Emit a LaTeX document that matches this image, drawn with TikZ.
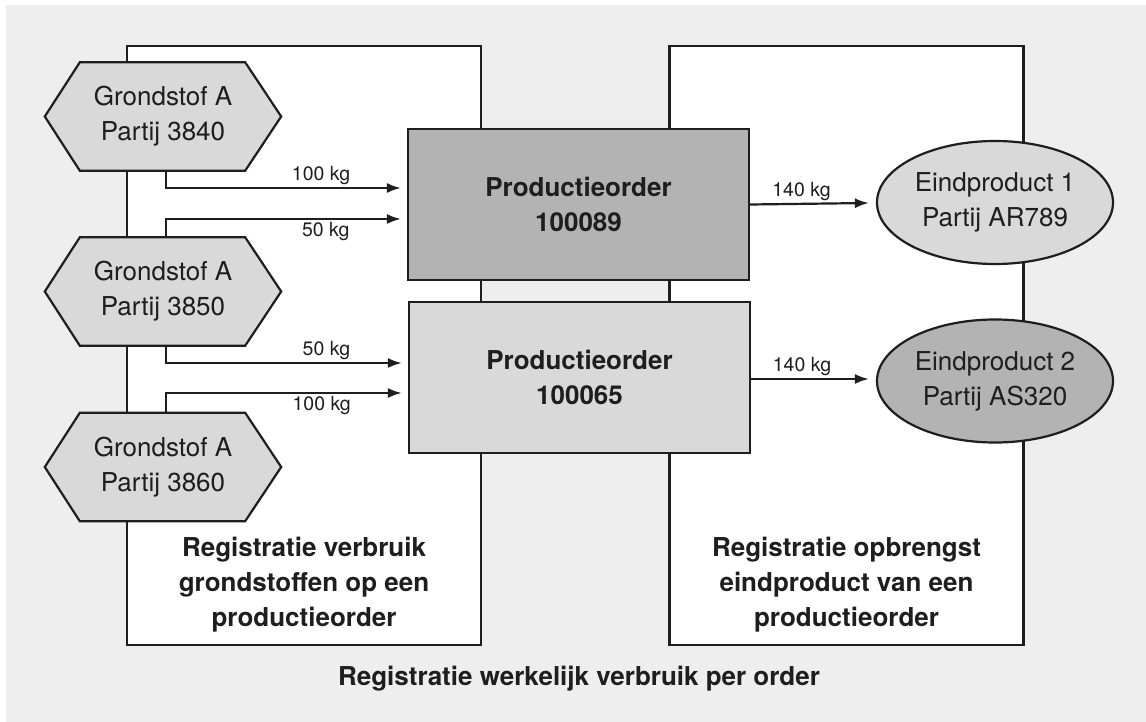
\documentclass[tikz,border=0pt]{standalone}
\usepackage{fontspec}
\setmainfont{TeX Gyre Heros}
\usetikzlibrary{shapes.geometric,calc,arrows.meta}

\pgfdeclarelayer{back}
\pgfdeclarelayer{shade}
\pgfsetlayers{back,shade,main}

\definecolor{panel}{HTML}{EEEEEE}
\definecolor{lightfill}{HTML}{D9D9D9}
\definecolor{darkfill}{HTML}{B3B3B3}
\definecolor{ink}{HTML}{1E1E1E}

% hexagon outline behind a (borderless) rectangular node
\newcommand\hexframe[1]{%
  \begin{pgfonlayer}{shade}
    \filldraw[outline, fill=lightfill]
      (#1.west) -- ($(#1.north west)+(35,0)$) -- ($(#1.north east)+(-36,0)$)
      -- (#1.east) -- ($(#1.south east)+(-36,0)$) -- ($(#1.south west)+(35,0)$)
      -- cycle;
  \end{pgfonlayer}}

\begin{document}
\begin{tikzpicture}[x=1pt,y=-1pt,
  outline/.style={draw=ink, line width=2.2pt, line join=miter},
  body/.style={font=\fontsize{26}{35}\selectfont, align=center, text=ink},
  heavy/.style={font=\fontsize{26}{35}\selectfont\bfseries, align=center, text=ink},
  qty/.style={font=\fontsize{19.5}{22}\selectfont, text=ink, inner sep=2pt},
  flow/.style={draw=ink, line width=2.2pt, -{Latex[length=14pt,width=10pt]}},
  lane/.style={outline, fill=white, minimum width=354, minimum height=599, inner sep=0},
  rawbox/.style={body, minimum width=236, minimum height=108, inner sep=0},
  orderbox/.style={heavy, outline, minimum width=341, minimum height=151, inner sep=0},
  product/.style={body, outline, ellipse, minimum width=236, minimum height=123, inner sep=0},
]
\useasboundingbox (0,0) rectangle (1146,722);

% backdrop and the two registration lanes
\begin{pgfonlayer}{back}
  \fill[panel] (6,5) rectangle (1146,722);
  \node[lane] (laneA) at (304,345.5) {};
  \node[lane] (laneB) at (846.5,345.5) {};
\end{pgfonlayer}

\node[heavy] (captA) at (304,585) {Registratie verbruik\\grondstoffen op een\\productieorder};
\node[heavy] (captB) at (846.5,585) {Registratie opbrengst\\eindproduct van een\\productieorder};
\node[heavy] (caption) at (579,679) {Registratie werkelijk verbruik per order};

% raw material batches
\node[rawbox] (g1) at (163,116.5) {Grondstof A\\Partij 3840};
\node[rawbox] (g2) at (163,291.5) {Grondstof A\\Partij 3850};
\node[rawbox] (g3) at (163,467) {Grondstof A\\Partij 3860};
\hexframe{g1}
\hexframe{g2}
\hexframe{g3}

% production orders
\node[orderbox, fill=darkfill] (p1) at (578.5,204.5) {Productieorder\\100089};
\node[orderbox, fill=lightfill] (p2) at (579.5,377.5) {Productieorder\\100065};

% finished products
\node[product, fill=lightfill] (e1) at (995,202.5) {Eindproduct 1\\Partij AR789};
\node[product, fill=darkfill] (e2) at (995,381) {Eindproduct 2\\Partij AS320};

% consumption flows
\draw[flow] ($(g1.south)+(3,0)$) |- ($(p1.west)+(-6,-16.5)$)
  node[qty, pos=0.83, above] {100 kg};
\draw[flow] ($(g2.north)+(3,0)$) |- ($(p1.west)+(-6,14.5)$)
  node[qty, pos=0.84, below] {50 kg};
\draw[flow] ($(g2.south)+(3,0)$) |- ($(p2.west)+(-6,-14.5)$)
  node[qty, pos=0.84, above] {50 kg};
\draw[flow] ($(g3.north)+(3,0)$) |- ($(p2.west)+(-6,15.5)$)
  node[qty, pos=0.83, below] {100 kg};

% yield flows
\draw[flow] (p1.east) -- ($(e1.west)+(-7,0.5)$)
  node[qty, midway, above, xshift=-8pt] {140 kg};
\draw[flow] ($(p2.east)+(0,1.5)$) -- ($(e2.west)+(-7,-2)$)
  node[qty, midway, above, xshift=-8pt] {140 kg};
\end{tikzpicture}
\end{document}
